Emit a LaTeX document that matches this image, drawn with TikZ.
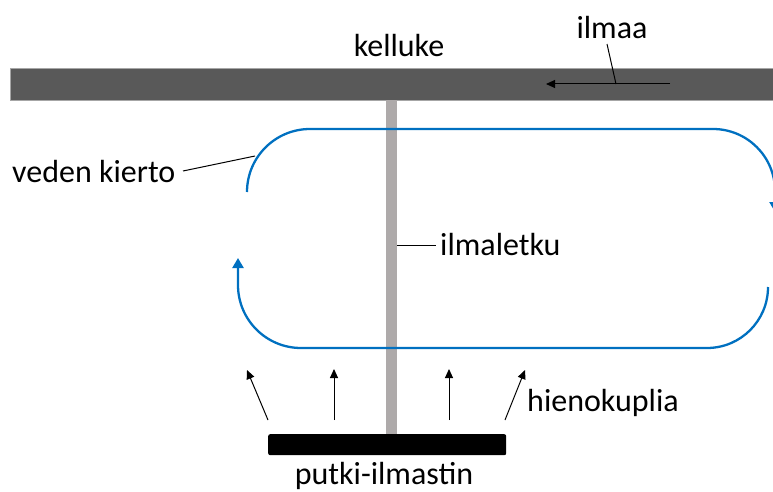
\documentclass[tikz,border=0pt]{standalone}
\usepackage{fontspec}
\setmainfont{Carlito}
\usetikzlibrary{arrows.meta}
\definecolor{floatgray}{HTML}{595959}
\definecolor{pipegray}{HTML}{AEAAAA}
\definecolor{wblue}{HTML}{0070C0}
\begin{document}
\begin{tikzpicture}[x=1pt,y=-1pt,
  lbl/.style={font=\fontsize{32}{37}\selectfont, inner sep=0pt},
  water/.style={draw=wblue, line width=2.3pt},
  leader/.style={draw=black, line width=1pt},
  bub/.style={draw=black, line width=1pt, -{Triangle[length=9pt,width=8pt]}},
  wtip/.style={-{Triangle[length=10pt,width=11pt]}}]
\useasboundingbox (0,0) rectangle (773,492);
% float
\node[fill=floatgray, draw=gray!70, line width=0.6pt, minimum width=766pt, minimum height=32pt, anchor=north west, inner sep=0pt] (float) at (10,68) {};
% air hose
\node[fill=pipegray, minimum width=11pt, minimum height=335pt, anchor=north, inner sep=0pt] (pipe) at (391.5,100) {};
% diffuser
\node[fill=black, rounded corners=2pt, minimum width=238pt, minimum height=21pt, anchor=north west, inner sep=0pt] (diff) at (268,434) {};
% water circulation
\draw[water, wtip] (247,192) arc[start angle=180, end angle=270, radius=63]
  -- (713,129) arc[start angle=270, end angle=360, radius=62] -- (775,212);
\draw[water, wtip] (768,287) arc[start angle=0, end angle=90, radius=61]
  -- (301,348) arc[start angle=90, end angle=180, radius=63] -- (238,258);
% labels
\node[lbl] (kelluke) at (399,46) {kelluke};
\node[lbl] (ilmaa) at (612,28) {ilmaa};
\node[lbl, anchor=west] (veden) at (12,172) {veden kierto};
\node[lbl, anchor=west] (ilmaletku) at (440,245) {ilmaletku};
\node[lbl, anchor=west] (hieno) at (527,403) {hienokuplia};
\node[lbl] (putki) at (384,476) {putki-ilmastin};
% leaders
\coordinate (airend) at (616,84);
\draw[leader] (607,44) -- (airend);
\draw[leader, -{Triangle[length=9pt,width=8pt]}] (670,84) -- (546,84);
\draw[leader] (183,171) -- (255,156);
\draw[leader] (pipe.east |- ilmaletku.west) -- ([xshift=-4pt]ilmaletku.west);
% bubbles
\draw[bub] (268,420) -- (247,370);
\draw[bub] (334,420) -- (334,369);
\draw[bub] (449,420) -- (449,369);
\draw[bub] (505,420) -- (525,370);
\end{tikzpicture}
\end{document}
